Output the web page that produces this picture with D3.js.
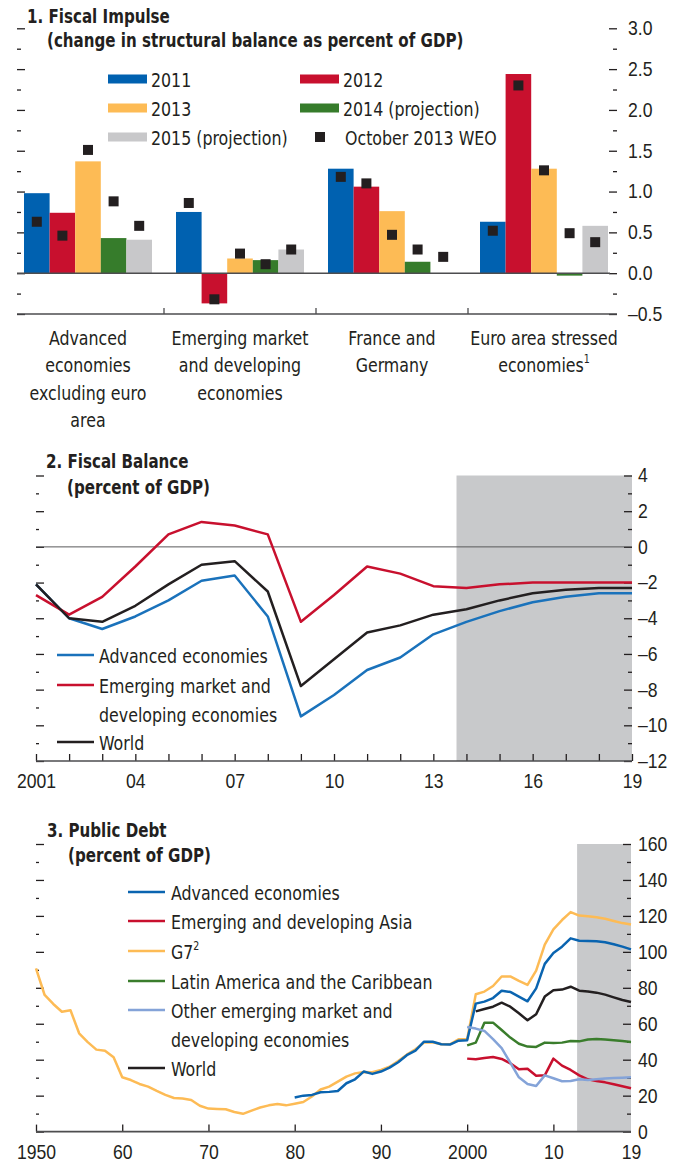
<!DOCTYPE html>
<html lang="en">
<head>
<meta charset="UTF-8" />
<title>Fiscal Impulse, Fiscal Balance and Public Debt</title>
<script src="https://d3js.org/d3.v7.min.js"></script>
<style>
  html, body { margin: 0; padding: 0; background: #fff; }
  svg { display: block; font-family: "DejaVu Sans Condensed", "Liberation Sans Narrow", "Arial Narrow", sans-serif; }
  /* squeeze text a bit: the original face is a narrow grotesque */
  text { fill: #231f20; font-size: 20px; transform-box: fill-box; transform-origin: left center; transform: scaleX(0.88); }
  text.mid { transform-origin: center; }
  text.title { font-weight: bold; transform: scaleX(0.84); }
  .axis path { display: none; }
  .axis line { stroke: #231f20; stroke-width: 1.3; }
</style>
</head>
<body>
<svg id="chart" width="683" height="1165"></svg>
<script>
// ---- 1. Fiscal impulse ----
const fiCats = [
  ["Advanced", "economies", "excluding euro", "area"],
  ["Emerging market", "and developing", "economies"],
  ["France and", "Germany"],
  ["Euro area stressed", "economies"]
];
const fiSeries = ["2011", "2012", "2013", "2014 (projection)", "2015 (projection)"];
const fi2011 = [0.98, 0.75, 1.28, 0.63];
const fi2012 = [0.74, -0.37, 1.06, 2.44];
const fi2013 = [1.37, 0.18, 0.76, 1.28];
const fi2014 = [0.43, 0.16, 0.14, -0.03];
const fi2015 = [0.41, 0.29, null, 0.58];
// October 2013 WEO markers, per year
const weo2011 = [0.63, 0.86, 1.18, 0.52];
const weo2012 = [0.46, -0.32, 1.10, 2.30];
const weo2013 = [1.51, 0.24, 0.47, 1.26];
const weo2014 = [0.88, 0.11, 0.29, 0.49];
const weo2015 = [0.58, 0.29, 0.20, 0.38];

// ---- 2. Fiscal balance ----
const fbYears = [2001, 2002, 2003, 2004, 2005, 2006, 2007, 2008, 2009, 2010,
                 2011, 2012, 2013, 2014, 2015, 2016, 2017, 2018, 2019];
const fbAdvanced = [-2.1, -4.0, -4.6, -3.9, -3.0, -1.9, -1.6, -3.9, -9.5, -8.3,
                    -6.9, -6.2, -4.9, -4.2, -3.6, -3.1, -2.8, -2.6, -2.6];
const fbEmerging = [-2.7, -3.8, -2.8, -1.1, 0.7, 1.4, 1.2, 0.7, -4.2, -2.7,
                    -1.1, -1.5, -2.2, -2.3, -2.1, -2.0, -2.0, -2.0, -2.0];
const fbWorld = [-2.1, -4.0, -4.2, -3.3, -2.1, -1.0, -0.8, -2.5, -7.8, -6.3,
                 -4.8, -4.4, -3.8, -3.5, -3.0, -2.6, -2.4, -2.3, -2.3];
const fbTicks = [4, 2, 0, -2, -4, -6, -8, -10, -12];
const fbYearLabels = {2001: "2001", 2004: "04", 2007: "07", 2010: "10", 2013: "13", 2016: "16", 2019: "19"};

// ---- 3. Public debt ----
const pdG7Start = 1950;
const pdG7 = [90.8, 76, 71, 66.7, 67.5, 54.7, 49.8, 45.6, 45, 41.3,
              30.2, 28.7, 26.5, 25, 22.6, 20.4, 18.7, 18.4, 17.6, 14.4,
              12.8, 12.6, 12.4, 10.9, 9.9, 11.7, 13.4, 14.6, 15.4, 14.6,
              15.5, 16.5, 19.5, 23.4, 25, 27.8, 30.6, 32.4, 33.2, 33,
              34.3, 36.1, 39.3, 42.8, 45.8, 49.5, 49.7, 48.6, 48.6, 51.4,
              51.4, 76.4, 77.9, 81, 86.3, 86.3, 83.8, 81.6, 89.5, 104,
              112.5, 117.7, 122.1, 120.2, 119.8, 119.2, 118.4, 117.2, 116, 115.2];
const pdAdvStart = 1980;
const pdAdvanced = [19, 20, 20.4, 21.9, 22.1, 22.6, 26.9, 29.1, 33.4, 32.1,
                    33.4, 35.6, 38.6, 42.5, 45, 50, 50, 48.6, 48.4, 50.6,
                    50.8, 71.2, 72.3, 74.3, 78.4, 77.7, 75.1, 72.5, 79.7, 93.3,
                    99.4, 102.9, 107.5, 106.2, 106, 105.9, 105.3, 104.2, 102.9, 101.4];
const pdWorldStart = 2001;
const pdWorld = [66.9, 68.2, 69.5, 71.7, 69.5, 65.8, 61.9, 65.3, 75.1, 78.6,
                 79, 80.6, 78.4, 78, 77.3, 76.2, 74.7, 73.2, 72.1];
const pdEmStart = 2000;
const pdLatAm = [48, 49.5, 60.6, 60.6, 56.5, 52.3, 48.9, 47.3, 47.1, 49.5,
                 49.3, 49.5, 50.4, 50.2, 51.2, 51.5, 51.2, 50.8, 50.4, 49.9];
const pdAsia = [40.6, 40.2, 41, 41.5, 40.4, 38, 34.7, 35, 31.1, 31.3,
                40.6, 36.7, 34.3, 31.3, 29.1, 28.2, 27.4, 26.3, 25.2, 24.1];
const pdOther = [58.2, 57.3, 56, 51.4, 46.5, 38.4, 30.2, 26.5, 25.4, 31.3,
                 29.7, 28, 28.2, 29.1, 28.7, 29.1, 29.5, 29.8, 30, 30.2];
const pdYearLabels = {1950: "1950", 1960: "60", 1970: "70", 1980: "80", 1990: "90", 2000: "2000", 2010: "10", 2019: "19"};

const ink = "#231f20";
const shade = "#c8c9cb";
const minus = s => s.replace("\u2212", "\u2013");
const svg = d3.select("#chart");

// =================== Panel 1 ===================
const p1 = svg.append("g");
const fiColors = ["#0061b0", "#c8102e", "#fdbb55", "#367c2b", "#c8c8ca"];
const fiValues = [fi2011, fi2012, fi2013, fi2014, fi2015];
const weoValues = [weo2011, weo2012, weo2013, weo2014, weo2015];

const x0 = d3.scaleBand().domain(d3.range(fiCats.length)).range([12, 620]);
const x1 = d3.scaleBand().domain(d3.range(fiSeries.length)).range([12, x0.bandwidth() - 12]);
const y1 = d3.scaleLinear().domain([-0.5, 3]).range([314, 28.3]);

p1.append("text").attr("class", "title").attr("x", 27).attr("y", 23).text("1. Fiscal Impulse");
p1.append("text").attr("class", "title").attr("x", 47).attr("y", 47)
  .text("(change in structural balance as percent of GDP)");

// ticks, left (no labels) and right (labels)
const fiMajor = d3.range(-0.5, 3.01, 0.5);
const fiMinor = d3.range(-0.25, 3, 0.5);
p1.append("g").attr("class", "axis").attr("transform", "translate(17,0)")
  .call(d3.axisLeft(y1).tickValues(fiMajor).tickSize(-8).tickFormat(""));
p1.append("g").attr("class", "axis").attr("transform", "translate(17,0)")
  .call(d3.axisLeft(y1).tickValues(fiMinor).tickSize(-4).tickFormat(""));
p1.append("g").attr("class", "axis").attr("transform", "translate(617,0)")
  .call(d3.axisRight(y1).tickValues(fiMajor).tickSize(-8).tickPadding(11)
    .tickFormat(d => minus(d3.format(".1f")(d))))
  .selectAll("text").attr("fill", ink);
p1.append("g").attr("class", "axis").attr("transform", "translate(617,0)")
  .call(d3.axisRight(y1).tickValues(fiMinor).tickSize(-4).tickFormat(""));

// bars
fiValues.forEach((vals, i) => {
  p1.append("g").selectAll("rect")
    .data(vals.map((v, j) => ({v, j})).filter(d => d.v !== null))
    .join("rect")
    .attr("x", d => x0(d.j) + x1(i))
    .attr("width", x1.bandwidth())
    .attr("y", d => y1(Math.max(0, d.v)))
    .attr("height", d => Math.abs(y1(d.v) - y1(0)))
    .attr("fill", fiColors[i]);
});

// zero line and bottom axis
p1.append("line").attr("x1", 17).attr("x2", 610).attr("y1", y1(0)).attr("y2", y1(0))
  .attr("stroke", "#4d4d4f").attr("stroke-width", 1.4);
p1.append("line").attr("x1", 17).attr("x2", 617).attr("y1", y1(-0.5)).attr("y2", y1(-0.5))
  .attr("stroke", "#4d4d4f").attr("stroke-width", 1.6);
p1.selectAll(".sep").data(d3.range(1, fiCats.length)).join("line")
  .attr("x1", d => x0(d)).attr("x2", d => x0(d))
  .attr("y1", y1(-0.5)).attr("y2", y1(-0.5) - 6)
  .attr("stroke", "#4d4d4f").attr("stroke-width", 1.3);

// WEO markers
weoValues.forEach((vals, i) => {
  p1.append("g").selectAll("rect")
    .data(vals.map((v, j) => ({v, j})))
    .join("rect")
    .attr("x", d => x0(d.j) + x1(i) + x1.bandwidth() / 2 - 5)
    .attr("y", d => y1(d.v) - 5)
    .attr("width", 10).attr("height", 10)
    .attr("fill", ink);
});

// category labels
fiCats.forEach((lines, j) => {
  const cx = x0(j) + x0.bandwidth() / 2;
  lines.forEach((ln, k) => {
    const t = p1.append("text").attr("class", "mid").attr("text-anchor", "middle")
      .attr("x", cx).attr("y", 345 + k * 27.3).text(ln);
    if (j === 3 && k === 1) {
      t.append("tspan").attr("dy", -9).style("font-size", "12px").text("1");
    }
  });
});

// legend
const fiLeg = [
  {x: 108, y: 79, i: 0}, {x: 300, y: 79, i: 1},
  {x: 108, y: 108, i: 2}, {x: 300, y: 108, i: 3},
  {x: 108, y: 137, i: 4}
];
fiLeg.forEach(d => {
  p1.append("rect").attr("x", d.x).attr("y", d.y - 4.5).attr("width", 39).attr("height", 9)
    .attr("fill", fiColors[d.i]);
  p1.append("text").attr("x", d.x + 43).attr("y", d.y + 8).text(fiSeries[d.i]);
});
p1.append("rect").attr("x", 315).attr("y", 132).attr("width", 10).attr("height", 10).attr("fill", ink);
p1.append("text").attr("x", 345).attr("y", 145).text("October 2013 WEO");

// =================== Panel 2 ===================
const p2 = svg.append("g");
const xFB = d3.scaleLinear().domain([2001, 2019]).range([36, 632]);
const yFB = d3.scaleLinear().domain([-12, 4]).range([761, 475.5]);

p2.append("rect").attr("x", xFB(2013.7)).attr("width", xFB(2019) - xFB(2013.7))
  .attr("y", yFB(4)).attr("height", yFB(-12) - yFB(4)).attr("fill", shade);

p2.append("text").attr("class", "title").attr("x", 46).attr("y", 468).text("2. Fiscal Balance");
p2.append("text").attr("class", "title").attr("x", 67).attr("y", 494).text("(percent of GDP)");

const fbMinor = d3.range(-11, 4, 2);
p2.append("g").attr("class", "axis").attr("transform", "translate(36,0)")
  .call(d3.axisLeft(yFB).tickValues(fbTicks).tickSize(-8).tickFormat(""));
p2.append("g").attr("class", "axis").attr("transform", "translate(36,0)")
  .call(d3.axisLeft(yFB).tickValues(fbMinor).tickSize(-3).tickFormat(""));
p2.append("g").attr("class", "axis").attr("transform", "translate(632,0)")
  .call(d3.axisRight(yFB).tickValues(fbTicks).tickSize(-8).tickPadding(6)
    .tickFormat(d => minus(d3.format("d")(d))))
  .selectAll("text").attr("fill", ink);
p2.append("g").attr("class", "axis").attr("transform", "translate(632,0)")
  .call(d3.axisRight(yFB).tickValues(fbMinor).tickSize(-4).tickFormat(""));

p2.append("line").attr("x1", 36).attr("x2", 632).attr("y1", yFB(0)).attr("y2", yFB(0))
  .attr("stroke", "#58595b").attr("stroke-width", 1);

const fbX = p2.append("g").attr("class", "axis").attr("transform", `translate(0,${yFB(-12)})`)
  .call(d3.axisBottom(xFB).tickValues(fbYears).tickSize(-7).tickPadding(13)
    .tickFormat(d => fbYearLabels[d] || ""));
fbX.selectAll("text").attr("class", "mid").attr("fill", ink);
p2.append("line").attr("x1", 36).attr("x2", 632).attr("y1", yFB(-12)).attr("y2", yFB(-12))
  .attr("stroke", "#4d4d4f").attr("stroke-width", 1.6);

const fbLine = d3.line().x((d, i) => xFB(fbYears[i])).y(d => yFB(d));
const fbSeries = [
  {vals: fbAdvanced, color: "#1a72bb"},
  {vals: fbEmerging, color: "#c8102e"},
  {vals: fbWorld, color: ink}
];
fbSeries.forEach(s => {
  p2.append("path").attr("d", fbLine(s.vals)).attr("fill", "none")
    .attr("stroke", s.color).attr("stroke-width", 2.5).attr("stroke-linejoin", "round");
});

const fbLeg = [
  {y: 655, color: "#1a72bb", lines: ["Advanced economies"]},
  {y: 685, color: "#c8102e", lines: ["Emerging market and", "developing economies"]},
  {y: 742, color: ink, lines: ["World"]}
];
fbLeg.forEach(d => {
  p2.append("line").attr("x1", 57).attr("x2", 94).attr("y1", d.y).attr("y2", d.y)
    .attr("stroke", d.color).attr("stroke-width", 2.6);
  d.lines.forEach((ln, k) => {
    p2.append("text").attr("x", 99).attr("y", d.y + 8 + k * 29).text(ln);
  });
});

// =================== Panel 3 ===================
const p3 = svg.append("g");
const xPD = d3.scaleLinear().domain([1950, 2019]).range([36, 631]);
const yPD = d3.scaleLinear().domain([0, 160]).range([1131.6, 844]);

p3.append("rect").attr("x", xPD(2012.75)).attr("width", xPD(2019) - xPD(2012.75))
  .attr("y", yPD(160)).attr("height", yPD(0) - yPD(160)).attr("fill", shade);

p3.append("text").attr("class", "title").attr("x", 47).attr("y", 837).text("3. Public Debt");
p3.append("text").attr("class", "title").attr("x", 68).attr("y", 862).text("(percent of GDP)");

const pdMajor = d3.range(0, 161, 20);
const pdMinor = d3.range(10, 160, 20);
p3.append("g").attr("class", "axis").attr("transform", "translate(36,0)")
  .call(d3.axisLeft(yPD).tickValues(pdMajor).tickSize(-8).tickFormat(""));
p3.append("g").attr("class", "axis").attr("transform", "translate(36,0)")
  .call(d3.axisLeft(yPD).tickValues(pdMinor).tickSize(-3).tickFormat(""));
p3.append("g").attr("class", "axis").attr("transform", "translate(631,0)")
  .call(d3.axisRight(yPD).tickValues(pdMajor).tickSize(-8).tickPadding(7)
    .tickFormat(d3.format("d")))
  .selectAll("text").attr("fill", ink);
p3.append("g").attr("class", "axis").attr("transform", "translate(631,0)")
  .call(d3.axisRight(yPD).tickValues(pdMinor).tickSize(-4).tickFormat(""));

const pdTickYears = Object.keys(pdYearLabels).map(Number);
const pdX = p3.append("g").attr("class", "axis").attr("transform", `translate(0,${yPD(0)})`)
  .call(d3.axisBottom(xPD).tickValues(pdTickYears).tickSize(-7).tickPadding(13)
    .tickFormat(d => pdYearLabels[d]));
pdX.selectAll("text").attr("class", "mid").attr("fill", ink);
pdX.selectAll(".tick").filter(d => d === 2019).select("line").remove();
p3.append("line").attr("x1", 36).attr("x2", 631).attr("y1", yPD(0)).attr("y2", yPD(0))
  .attr("stroke", "#4d4d4f").attr("stroke-width", 1.6);

const pdLine = start => d3.line().x((d, i) => xPD(start + i)).y(d => yPD(d));
const pdColors = {adv: "#0a64b0", asia: "#c8102e", g7: "#fdbb55", latam: "#3a7d2c", other: "#84a3d8", world: ink};
const pdSeries = [
  {vals: pdG7, start: pdG7Start, color: pdColors.g7},
  {vals: pdAdvanced, start: pdAdvStart, color: pdColors.adv},
  {vals: pdLatAm, start: pdEmStart, color: pdColors.latam},
  {vals: pdAsia, start: pdEmStart, color: pdColors.asia},
  {vals: pdOther, start: pdEmStart, color: pdColors.other},
  {vals: pdWorld, start: pdWorldStart, color: pdColors.world}
];
pdSeries.forEach(s => {
  p3.append("path").attr("d", pdLine(s.start)(s.vals)).attr("fill", "none")
    .attr("stroke", s.color).attr("stroke-width", 2.5).attr("stroke-linejoin", "round");
});

const pdLeg = [
  {y: 892, color: pdColors.adv, lines: ["Advanced economies"]},
  {y: 921, color: pdColors.asia, lines: ["Emerging and developing Asia"]},
  {y: 951, color: pdColors.g7, lines: ["G7"], sup: "2"},
  {y: 981, color: pdColors.latam, lines: ["Latin America and the Caribbean"]},
  {y: 1010, color: pdColors.other, lines: ["Other emerging market and", "developing economies"]},
  {y: 1068, color: pdColors.world, lines: ["World"]}
];
pdLeg.forEach(d => {
  p3.append("line").attr("x1", 128).attr("x2", 165).attr("y1", d.y).attr("y2", d.y)
    .attr("stroke", d.color).attr("stroke-width", 2.6);
  d.lines.forEach((ln, k) => {
    const t = p3.append("text").attr("x", 171).attr("y", d.y + 8 + k * 29).text(ln);
    if (d.sup) t.append("tspan").attr("dy", -9).style("font-size", "12px").text(d.sup);
  });
});
</script>
</body>
</html>
